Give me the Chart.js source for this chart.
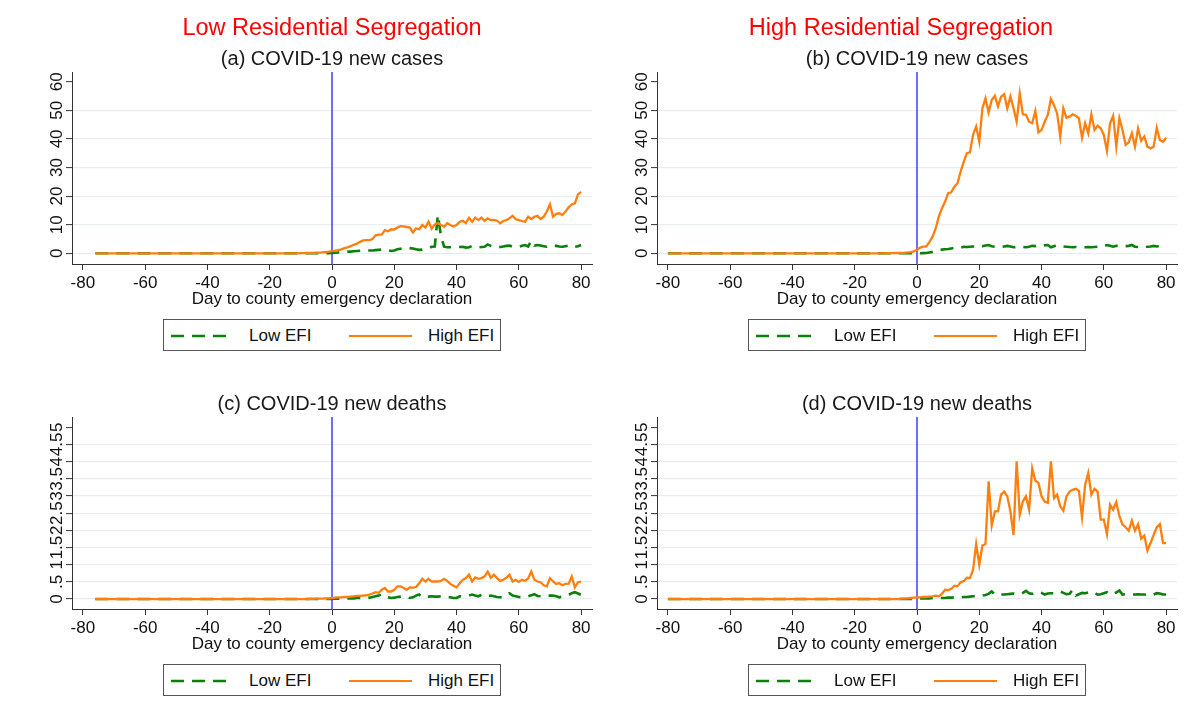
<!DOCTYPE html>
<html>
<head>
<meta charset="utf-8">
<script src="https://cdn.jsdelivr.net/npm/chart.js@4/dist/chart.umd.min.js"></script>
<style>
  html, body { margin: 0; padding: 0; background: #fff; }
  body { width: 1203px; height: 715px; position: relative; overflow: hidden;
         font-family: "Liberation Sans", Arial, sans-serif; }
  canvas { position: absolute; }
  .txt { position: absolute; transform: translate(-50%, -50%); white-space: nowrap; line-height: 1; }
  .main { color: #ff0000; font-size: 23.5px; }
  .sub { color: #1a1a1a; font-size: 20px; }
  .legend { position: absolute; border: 1px solid #555; box-sizing: border-box; background: #fff; }
  .legend span { position: absolute; top: 50%; transform: translateY(-50%); font-size: 17px; color: #111; white-space: nowrap; line-height: 1; }
  .legend svg { position: absolute; }
</style>
</head>
<body>
<script>
// ---------------- data ----------------
const daysLow = [
 -76,-75,-74,-73,-72,-71,-70,-69,-68,-67,
 -66,-65,-64,-63,-62,-61,-60,-59,-58,-57,
 -56,-55,-54,-53,-52,-51,-50,-49,-48,-47,
 -46,-45,-44,-43,-42,-41,-40,-39,-38,-37,
 -36,-35,-34,-33,-32,-31,-30,-29,-28,-27,
 -26,-25,-24,-23,-22,-21,-20,-19,-18,-17,
 -16,-15,-14,-13,-12,-11,-10,-9,-8,-7,
 -6,-5,-4,-3,-2,-1,0,
 1,2,3,4,5,6,7,8,9,10,11,12,13,14,15,16,17,18,19,20,
 21,22,23,24,25,26,27,28,29,30,31,32,33,34,35,36,37,38,39,40,
 41,42,43,44,45,46,47,48,49,50,51,52,53,54,55,56,57,58,59,60,
 61,62,63,64,65,66,67,68,69,70,71,72,73,74,75,76,77,78,79,80
];
const daysHigh = [
 -80,-79,-78,-77,-76,-75,-74,-73,-72,-71,-70,-69,-68,-67,
 -66,-65,-64,-63,-62,-61,-60,-59,-58,-57,
 -56,-55,-54,-53,-52,-51,-50,-49,-48,-47,
 -46,-45,-44,-43,-42,-41,-40,-39,-38,-37,
 -36,-35,-34,-33,-32,-31,-30,-29,-28,-27,
 -26,-25,-24,-23,-22,-21,-20,-19,-18,-17,
 -16,-15,-14,-13,-12,-11,-10,-9,-8,-7,
 -6,-5,-4,-3,-2,-1,0,
 1,2,3,4,5,6,7,8,9,10,11,12,13,14,15,16,17,18,19,20,
 21,22,23,24,25,26,27,28,29,30,31,32,33,34,35,36,37,38,39,40,
 41,42,43,44,45,46,47,48,49,50,51,52,53,54,55,56,57,58,59,60,
 61,62,63,64,65,66,67,68,69,70,71,72,73,74,75,76,77,78,79,80
];

// (a) Low segregation, new cases
const casesLowSegHighEFI = [
 0,0,0,0,0,0,0,0,0,0, 0,0,0,0,0,0,0,0,0,0, 0,0,0,0,0,0,0,0,0,0,
 0,0,0,0,0,0,0,0,0,0, 0,0,0,0,0,0,0,0,0,0, 0,0,0,0,0,0,0,0,0,0,
 0,0,0,0,0,0,
 0.05,0.05,0.1,0.1,0.15,0.2,0.25,0.35,0.45,0.6,
 0.8,
 0.9,1.1,1.4,1.8,2.1,2.5,3.0,3.4,4.0,4.5,
 4.6,4.6,5.0,6.3,6.5,6.6,8.1,7.7,8.4,8.3,
 9.0,9.5,9.4,9.2,9.0,7.3,8.7,8.4,9.9,9.0,
 11.1,8.6,10.1,10.6,9.9,9.3,10.5,9.9,9.4,9.9,
 11.0,11.4,10.6,12.4,11.0,12.5,11.6,12.5,11.3,12.2,
 11.6,11.7,11.4,10.5,11.3,11.6,12.3,13.1,11.9,11.6,
 11.3,11.0,12.8,12.0,12.8,13.1,12.0,12.8,14.6,17.1,
 12.8,13.8,14.0,13.4,14.6,16.1,17.1,17.5,20.6,21.5
];
const casesLowSegLowEFI = [
 0,0,0,0,0,0,0,0,0,0, 0,0,0,0,0,0,0,0,0,0, 0,0,0,0,0,0,0,0,0,0,
 0,0,0,0,0,0,0,0,0,0, 0,0,0,0,0,0,0,0,0,0, 0,0,0,0,0,0,0,0,0,0,
 0,0,0,0,0,0,
 0,0,0,0,0,0,0,0.02,0.04,0.05,
 0.08,
 0.2,0.3,0.5,0.6,0.6,0.6,0.7,0.8,0.9,1.0,
 1.0,1.0,1.0,1.1,1.2,1.3,1.3,1.1,0.8,1.0,
 1.4,1.6,1.8,2.0,1.8,1.7,1.4,1.2,1.3,1.5,
 1.8,2.3,2.4,13.4,6.0,2.3,2.1,2.1,2.1,2.1,
 2.2,2.3,2.0,2.1,2.6,2.3,2.1,2.2,2.3,3.1,
 2.6,2.3,2.1,2.2,2.4,2.6,2.7,2.3,2.3,2.3,
 2.6,2.9,2.4,4.4,2.7,2.9,2.7,2.5,2.3,2.7,
 2.6,2.6,2.4,2.3,2.5,2.7,2.1,2.3,2.5,2.9
];

// (b) High segregation, new cases
const casesHighSegHighEFI = [
 0,0,0,0,0,0,0,0,0,0, 0,0,0,0,0,0,0,0,0,0, 0,0,0,0,0,0,0,0,0,0,
 0,0,0,0,0,0,0,0,0,0, 0,0,0,0,0,0,0,0,0,0, 0,0,0,0,0,0,0,0,0,0,
 0,0,0,0,0,0,0,0,0,0,
 0.02,0.05,0.05,0.1,0.1,0.15,0.2,0.3,0.45,0.7,
 1.2,
 2.0,2.3,2.4,4.0,5.8,8.7,12.8,15.7,18.0,21.0,
 21.3,23.3,24.5,28.5,32.0,35.0,35.3,41.4,44.3,39.0,
 50.7,54.2,49.2,53.6,55.1,51.3,54.8,55.6,50.7,54.8,
 50.7,46.0,55.9,48.6,48.4,46.0,45.5,49.8,42.3,43.1,
 46.0,48.4,54.0,51.8,48.9,40.8,50.7,47.4,47.8,48.6,
 48.1,47.2,40.4,45.5,42.0,48.6,43.1,44.6,43.7,41.4,
 35.8,45.5,48.1,37.3,47.2,43.1,37.9,38.8,42.0,37.3,
 43.7,39.3,40.8,37.3,36.7,37.3,43.9,39.6,39.0,40.4
];
const casesHighSegLowEFI = [
 0,0,0,0,0,0,0,0,0,0, 0,0,0,0,0,0,0,0,0,0, 0,0,0,0,0,0,0,0,0,0,
 0,0,0,0,0,0,0,0,0,0, 0,0,0,0,0,0,0,0,0,0, 0,0,0,0,0,0,0,0,0,0,
 0,0,0,0,0,0,0,0,0,0,
 0,0,0,0,0,0,0,0,0,0,
 0,
 0,0.05,0.1,0.3,0.5,0.8,1.0,1.3,1.4,1.5,
 1.7,1.9,2.1,2.0,2.3,2.2,2.3,2.4,2.3,2.6,
 2.5,2.7,2.9,2.5,2.3,2.3,2.2,2.4,2.6,2.4,
 2.1,2.2,2.3,2.2,2.1,2.3,2.6,2.5,2.9,2.7,
 2.8,2.9,2.1,2.5,2.9,2.6,2.4,2.3,2.2,2.1,
 2.2,2.1,2.2,2.1,2.2,2.1,2.2,2.3,2.2,2.5,
 2.9,2.6,2.3,2.6,2.7,2.7,2.5,2.6,2.9,2.3,
 2.2,2.3,2.1,2.3,2.4,2.6,2.4,2.7,2.9,3.3
];

// (c) Low segregation, new deaths
const deathsLowSegHighEFI = [
 0,0,0,0,0,0,0,0,0,0, 0,0,0,0,0,0,0,0,0,0, 0,0,0,0,0,0,0,0,0,0,
 0,0,0,0,0,0,0,0,0,0, 0,0,0,0,0,0,0,0,0,0, 0,0,0,0,0,0,0,0,0,0,
 0,0,0,0,0,0,
 0,0,0,0.005,0.005,0.01,0.01,0.015,0.02,0.02,
 0.03,
 0.04,0.05,0.05,0.06,0.06,0.07,0.08,0.09,0.09,0.1,
 0.11,0.13,0.16,0.2,0.18,0.27,0.32,0.22,0.22,0.27,
 0.37,0.37,0.32,0.27,0.34,0.33,0.35,0.46,0.59,0.51,
 0.59,0.51,0.51,0.51,0.53,0.59,0.53,0.44,0.39,0.34,
 0.46,0.56,0.61,0.71,0.51,0.63,0.59,0.61,0.66,0.8,
 0.62,0.71,0.61,0.53,0.56,0.62,0.71,0.51,0.56,0.5,
 0.56,0.53,0.6,0.8,0.56,0.51,0.49,0.4,0.37,0.61,
 0.51,0.44,0.46,0.4,0.44,0.45,0.66,0.34,0.49,0.51
];
const deathsLowSegLowEFI = [
 0,0,0,0,0,0,0,0,0,0, 0,0,0,0,0,0,0,0,0,0, 0,0,0,0,0,0,0,0,0,0,
 0,0,0,0,0,0,0,0,0,0, 0,0,0,0,0,0,0,0,0,0, 0,0,0,0,0,0,0,0,0,0,
 0,0,0,0,0,0,
 0,0,0,0,0,0,0,0,0,0,
 0,
 0.01,0.01,0.01,0.02,0.02,0.02,0.02,0.03,0.03,0.03,
 0.03,0.04,0.06,0.08,0.1,0.14,0.1,0.05,0.03,0.04,
 0.06,0.07,0.08,0.06,0.03,0.05,0.1,0.13,0.05,0.06,
 0.07,0.08,0.07,0.07,0.08,0.06,0.05,0.05,0.03,0.03,
 0.08,0.08,0.09,0.1,0.13,0.1,0.08,0.12,0.13,0.08,
 0.1,0.08,0.06,0.05,0.05,0.12,0.17,0.1,0.08,0.06,
 0.05,0.07,0.08,0.11,0.14,0.09,0.08,0.09,0.1,0.1,
 0.1,0.08,0.05,0.08,0.1,0.12,0.17,0.2,0.16,0.12
];

// (d) High segregation, new deaths
const deathsHighSegHighEFI = [
 0,0,0,0,0,0,0,0,0,0, 0,0,0,0,0,0,0,0,0,0, 0,0,0,0,0,0,0,0,0,0,
 0,0,0,0,0,0,0,0,0,0, 0,0,0,0,0,0,0,0,0,0, 0,0,0,0,0,0,0,0,0,0,
 0,0,0,0,0,0,0,0,0,0,
 0,0,0,0,0,0.01,0.01,0.02,0.03,0.04,
 0.05,
 0.05,0.06,0.06,0.07,0.08,0.1,0.08,0.15,0.27,0.26,
 0.3,0.39,0.37,0.49,0.52,0.62,0.61,0.85,1.6,1.0,
 1.56,1.6,3.43,2.14,2.55,2.55,3.04,3.13,2.99,2.55,
 1.87,4.01,2.46,2.84,2.99,2.6,3.81,3.45,3.38,2.99,
 2.84,2.8,4.01,2.94,3.04,2.7,2.57,2.99,3.13,3.18,
 3.21,3.15,2.38,3.33,3.67,3.04,3.21,3.13,2.31,2.31,
 1.89,2.75,2.6,2.82,2.41,2.17,2.09,1.99,2.28,1.99,
 2.18,1.76,1.85,1.41,1.63,1.87,2.09,2.18,1.63,1.63
];
const deathsHighSegLowEFI = [
 0,0,0,0,0,0,0,0,0,0, 0,0,0,0,0,0,0,0,0,0, 0,0,0,0,0,0,0,0,0,0,
 0,0,0,0,0,0,0,0,0,0, 0,0,0,0,0,0,0,0,0,0, 0,0,0,0,0,0,0,0,0,0,
 0,0,0,0,0,0,0,0,0,0,
 0,0,0,0,0,0,0,0,0,0,
 0.01,
 0.02,0.02,0.02,0.02,0.03,0.03,0.03,0.03,0.03,0.04,
 0.04,0.05,0.05,0.05,0.06,0.06,0.07,0.08,0.09,0.1,
 0.1,0.12,0.15,0.22,0.13,0.14,0.13,0.13,0.14,0.15,
 0.16,0.14,0.14,0.18,0.24,0.17,0.15,0.2,0.2,0.18,
 0.13,0.16,0.17,0.17,0.18,0.22,0.18,0.14,0.15,0.27,
 0.1,0.14,0.18,0.17,0.19,0.22,0.18,0.13,0.14,0.17,
 0.2,0.13,0.15,0.19,0.25,0.13,0.14,0.13,0.13,0.13,
 0.14,0.13,0.13,0.12,0.1,0.13,0.17,0.16,0.13,0.13
];

// ticks
const xTicks = [-80, -60, -40, -20, 0, 20, 40, 60, 80];
const casesTicks = [0, 10, 20, 30, 40, 50, 60];
const casesTickLabels = ['0', '10', '20', '30', '40', '50', '60'];
const deathsTicks = [0, 0.5, 1, 1.5, 2, 2.5, 3, 3.5, 4, 4.5, 5];
const deathsTickLabels = ['0', '.5', '1', '1.5', '2', '2.5', '3', '3.5', '4', '4.5', '5'];

const seriesNames = ['Low EFI', 'High EFI'];
const groupTitles = ['Low Residential Segregation', 'High Residential Segregation'];
const panelTitles = ['(a) COVID-19 new cases', '(b) COVID-19 new cases', '(c) COVID-19 new deaths', '(d) COVID-19 new deaths'];
const xAxisTitle = 'Day to county emergency declaration';

// ---------------- style ----------------
const FONT = '"Liberation Sans", Arial, sans-serif';
const GREEN = '#0b800b';
const ORANGE = '#ff7f0e';
const BLUE = '#3c3cff';
const AXIS = '#333333';
const GRID = '#e7eef1';
const TEXT = '#111111';

const CW = 600, CH = 357;

const zeroLinePlugin = {
  id: 'zeroLine',
  beforeDatasetsDraw(chart) {
    const {ctx, chartArea, scales} = chart;
    const x = scales.x.getPixelForValue(0);
    ctx.save();
    ctx.strokeStyle = BLUE;
    ctx.lineWidth = 1.5;
    ctx.beginPath();
    ctx.moveTo(x, chartArea.top);
    ctx.lineTo(x, chartArea.bottom);
    ctx.stroke();
    ctx.restore();
  }
};

const yLabelPlugin = {
  id: 'yRotLabels',
  afterDraw(chart, args, opts) {
    const s = chart.scales.y, ctx = chart.ctx;
    ctx.save();
    ctx.font = '17px ' + FONT;
    ctx.fillStyle = TEXT;
    ctx.textAlign = 'center';
    ctx.textBaseline = 'alphabetic';
    s.ticks.forEach((t, i) => {
      const y = s.getPixelForValue(t.value);
      ctx.save();
      ctx.translate(s.right - 10.3, y);
      ctx.rotate(-Math.PI / 2);
      ctx.fillText(opts.labels[i], 0, 0);
      ctx.restore();
    });
    ctx.restore();
  }
};

function makePanel(left, top, days, low, high, yMin, yMax, yTicks, yLabels) {
  const c = document.createElement('canvas');
  c.width = CW; c.height = CH;
  c.style.left = left + 'px'; c.style.top = top + 'px';
  c.style.width = CW + 'px'; c.style.height = CH + 'px';
  document.body.appendChild(c);
  const topTick = yTicks[yTicks.length - 1];
  new Chart(c, {
    type: 'line',
    data: {
      labels: days,
      datasets: [
        { label: seriesNames[0], data: low, borderColor: GREEN, borderWidth: 2.6,
          borderDash: [13, 8], pointRadius: 0, tension: 0, fill: false, order: 2 },
        { label: seriesNames[1], data: high, borderColor: ORANGE, borderWidth: 2.3,
          pointRadius: 0, tension: 0, fill: false, order: 1 }
      ]
    },
    options: {
      responsive: false,
      animation: false,
      devicePixelRatio: 1,
      layout: { padding: { left: 0, right: CW - 592, top: 72, bottom: CH - 264 - 46 } },
      plugins: {
        legend: { display: false },
        tooltip: { enabled: false },
        yRotLabels: { labels: yLabels }
      },
      scales: {
        x: {
          type: 'linear', min: -83.5, max: 83.5,
          afterBuildTicks: s => { s.ticks = xTicks.map(v => ({ value: v })); },
          afterFit: s => { s.height = 46; },
          grid: { drawOnChartArea: false, drawTicks: true, tickLength: 6, tickColor: AXIS, tickWidth: 1 },
          border: { display: true, color: AXIS, width: 1 },
          ticks: { font: { family: FONT, size: 17 }, color: TEXT, padding: 3, maxRotation: 0, autoSkip: false },
          title: { display: true, text: xAxisTitle, font: { family: FONT, size: 17 }, color: TEXT, padding: { top: 0, bottom: 0 } }
        },
        y: {
          type: 'linear', min: yMin, max: yMax,
          afterBuildTicks: s => { s.ticks = yTicks.map(v => ({ value: v })); },
          afterFit: s => { s.width = 72; },
          grid: {
            drawOnChartArea: true, drawTicks: true, tickLength: 6, tickColor: AXIS, tickWidth: 1,
            color: ctx => (ctx.tick && ctx.tick.value === topTick) ? 'rgba(0,0,0,0)' : GRID,
            lineWidth: 1.2
          },
          border: { display: true, color: AXIS, width: 1 },
          ticks: { display: false, autoSkip: false }
        }
      }
    },
    plugins: [zeroLinePlugin, yLabelPlugin]
  });
}

function addText(cls, text, x, y) {
  const d = document.createElement('div');
  d.className = 'txt ' + cls;
  d.textContent = text;
  d.style.left = x + 'px'; d.style.top = y + 'px';
  document.body.appendChild(d);
}

function addLegend(left, top) {
  const L = document.createElement('div');
  L.className = 'legend';
  L.style.left = left + 'px'; L.style.top = top + 'px';
  L.style.width = '338px'; L.style.height = '32px';
  L.innerHTML =
    '<svg style="left:7px;top:11px" width="60" height="10"><line x1="0" y1="5" x2="58" y2="5" stroke="' + GREEN + '" stroke-width="2.4" stroke-dasharray="13 8"/></svg>' +
    '<span style="left:85px">' + seriesNames[0] + '</span>' +
    '<svg style="left:185px;top:11px" width="65" height="10"><line x1="0" y1="5" x2="63" y2="5" stroke="' + ORANGE + '" stroke-width="2"/></svg>' +
    '<span style="left:264px">' + seriesNames[1] + '</span>';
  document.body.appendChild(L);
}

const DX = 585, DY = 345;

makePanel(0, 0, daysLow, casesLowSegLowEFI, casesLowSegHighEFI, -3.74, 63.4, casesTicks, casesTickLabels);
makePanel(DX, 0, daysHigh, casesHighSegLowEFI, casesHighSegHighEFI, -3.74, 63.4, casesTicks, casesTickLabels);
makePanel(0, DY, daysLow, deathsLowSegLowEFI, deathsLowSegHighEFI, -0.29, 5.30, deathsTicks, deathsTickLabels);
makePanel(DX, DY, daysHigh, deathsHighSegLowEFI, deathsHighSegHighEFI, -0.29, 5.30, deathsTicks, deathsTickLabels);

addText('main', groupTitles[0], 332, 28);
addText('main', groupTitles[1], 901, 28);
addText('sub', panelTitles[0], 332, 58);
addText('sub', panelTitles[1], 332 + DX, 58);
addText('sub', panelTitles[2], 332, 58 + DY);
addText('sub', panelTitles[3], 332 + DX, 58 + DY);

addLegend(163, 319);
addLegend(163 + DX, 319);
addLegend(163, 319 + DY);
addLegend(163 + DX, 319 + DY);
</script>
</body>
</html>
